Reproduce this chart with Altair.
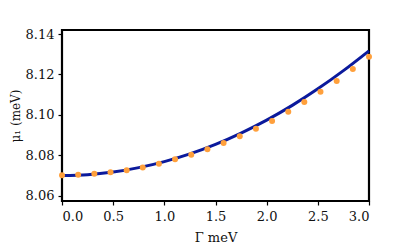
import altair as alt
import pandas as pd

# Dots (orange markers)
dot_x = [0.0, 0.158, 0.316, 0.474, 0.632, 0.789, 0.947, 1.105, 1.263, 1.421,
         1.579, 1.737, 1.895, 2.053, 2.211, 2.368, 2.526, 2.684, 2.842, 3.0]
dot_y = [8.0702, 8.0704, 8.0709, 8.0716, 8.0726, 8.0740, 8.0758, 8.0780, 8.0803, 8.0830,
         8.0861, 8.0894, 8.0932, 8.0970, 8.1016, 8.1064, 8.1114, 8.1168, 8.1227, 8.1288]

# Line (dark blue curve)
line_x = [0.0, 0.25, 0.5, 0.75, 1.0, 1.25, 1.5, 1.75, 2.0, 2.25, 2.5, 2.75, 3.0]
line_y = [8.0700, 8.0704, 8.0717, 8.0739, 8.0769, 8.0807, 8.0854, 8.0910, 8.0974,
          8.1047, 8.1129, 8.1219, 8.1317]

x_ticks = [0.0, 0.5, 1.0, 1.5, 2.0, 2.5, 3.0]
y_ticks = [8.06, 8.08, 8.10, 8.12, 8.14]

dots = pd.DataFrame({"x": dot_x, "y": dot_y})
line = pd.DataFrame({"x": line_x, "y": line_y})

FONT = "DejaVu Serif"

xscale = alt.Scale(domain=[0, 3], nice=False, zero=False)
yscale = alt.Scale(domain=[8.0574, 8.142], nice=False, zero=False)

xaxis = alt.Axis(title="Γ meV", values=x_ticks, format=".1f")
yaxis = alt.Axis(title="μ₁ (meV)", values=y_ticks, format=".2f")

line_chart = alt.Chart(line).mark_line(color="#0b1a9c", strokeWidth=3, interpolate="monotone").encode(
    x=alt.X("x:Q", scale=xscale, axis=xaxis),
    y=alt.Y("y:Q", scale=yscale, axis=yaxis),
)

dot_chart = alt.Chart(dots).mark_circle(color="#ffa03c", size=36, opacity=1).encode(
    x=alt.X("x:Q", scale=xscale),
    y=alt.Y("y:Q", scale=yscale),
)

chart = (line_chart + dot_chart).properties(
    width=307, height=171,
    autosize=alt.AutoSizeParams(type="none"),
    padding={"left": 54, "top": 22, "right": 10, "bottom": 46},
).configure(font=FONT).configure_view(
    stroke="black", strokeWidth=2.2
).configure_axis(
    grid=False, domain=False, tickColor="black", tickSize=4, tickWidth=1.2,
    labelFont=FONT, labelFontSize=13, labelColor="#111111", labelPadding=4,
    titleFont=FONT, titleFontSize=13, titleFontWeight="normal", titleColor="#111111",
).configure_axisX(titlePadding=8, labelPadding=5).configure_axisY(titlePadding=3, titleFontSize=12)

chart.save("out.html", embed_options={"renderer": "svg", "actions": False})
